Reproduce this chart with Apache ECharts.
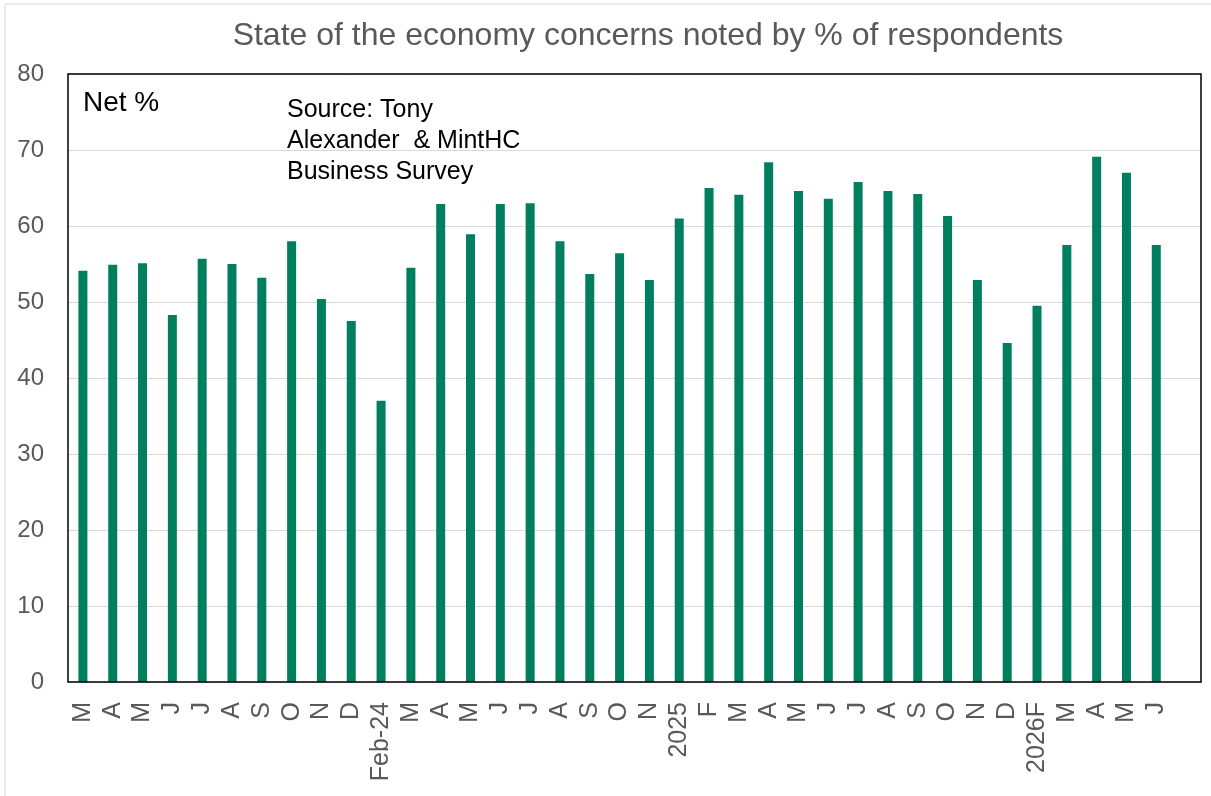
<!DOCTYPE html>
<html>
<head>
<meta charset="utf-8">
<script src="https://cdn.jsdelivr.net/npm/echarts@6/dist/echarts.min.js"></script>
<style>
  html, body { margin: 0; padding: 0; background: #fff; }
  #chart { width: 1211px; height: 796px; }
</style>
</head>
<body>
<div id="chart"></div>
<script>
// Monthly categories (Mar 2023 .. Jun 2026); the trailing slot is left empty
const months = ['M','A','M','J','J','A','S','O','N','D','Feb-24','M','A','M','J','J','A','S','O','N',
  '2025','F','M','A','M','J','J','A','S','O','N','D','2026F','M','A','M','J',''];

// Net % of respondents noting state-of-the-economy concerns
const netConcern = [54.1, 54.9, 55.1, 48.3, 55.7, 55.0, 53.2, 58.0, 50.4, 47.5, 37.0, 54.5, 62.9, 58.9,
  62.9, 63.0, 58.0, 53.7, 56.4, 52.9, 61.0, 65.0, 64.1, 68.4, 64.6, 63.6, 65.8, 64.6, 64.2, 61.3,
  52.9, 44.6, 49.5, 57.5, 69.1, 67.0, 57.5];

const yTicks = { min: 0, max: 80, interval: 10 };

const FONT = 'Liberation Sans, Arial';

const chart = echarts.init(document.getElementById('chart'), null, { renderer: 'canvas' });
chart.setOption({
  backgroundColor: '#fff',
  animation: false,
  title: {
    text: 'State of the economy concerns noted by % of respondents',
    left: 643, top: 15, textAlign: 'center',
    textStyle: { fontFamily: FONT, fontSize: 32, fontWeight: 'normal', color: '#595959' }
  },
  grid: { left: 68, right: 10, top: 74, bottom: 114, containLabel: false },
  xAxis: {
    type: 'category',
    data: months,
    axisLine: { show: false },
    axisTick: { show: false },
    axisLabel: {
      rotate: 90, interval: 0, margin: 20,
      fontFamily: FONT, fontSize: 25, color: '#595959'
    }
  },
  yAxis: {
    type: 'value',
    min: yTicks.min, max: yTicks.max, interval: yTicks.interval,
    axisLine: { show: false },
    axisTick: { show: false },
    splitLine: { lineStyle: { color: '#d9d9d9', width: 1 } },
    axisLabel: { margin: 24, fontFamily: FONT, fontSize: 24, color: '#595959' }
  },
  series: [{
    type: 'bar',
    data: netConcern,
    barWidth: 9,
    itemStyle: { color: '#007f5f' }
  }],
  graphic: [
    // outer chart frame (left and top edges)
    { type: 'polyline', shape: { points: [[5, 796], [5, 4], [1211, 4]] }, style: { fill: null, stroke: '#d9d9d9', lineWidth: 1 }, silent: true },
    // plot area frame
    { type: 'rect', shape: { x: 68, y: 74, width: 1133, height: 608 }, style: { fill: null, stroke: '#000', lineWidth: 1.5 }, z: 10, silent: true },
    { type: 'text', left: 83, top: 89, style: { text: 'Net %', fontFamily: FONT, fontSize: 28, fill: '#000' } },
    { type: 'text', left: 287, top: 95, style: { text: 'Source: Tony\nAlexander  & MintHC\nBusiness Survey', fontFamily: FONT, fontSize: 25, lineHeight: 31, fill: '#000' } }
  ]
});
</script>
</body>
</html>
